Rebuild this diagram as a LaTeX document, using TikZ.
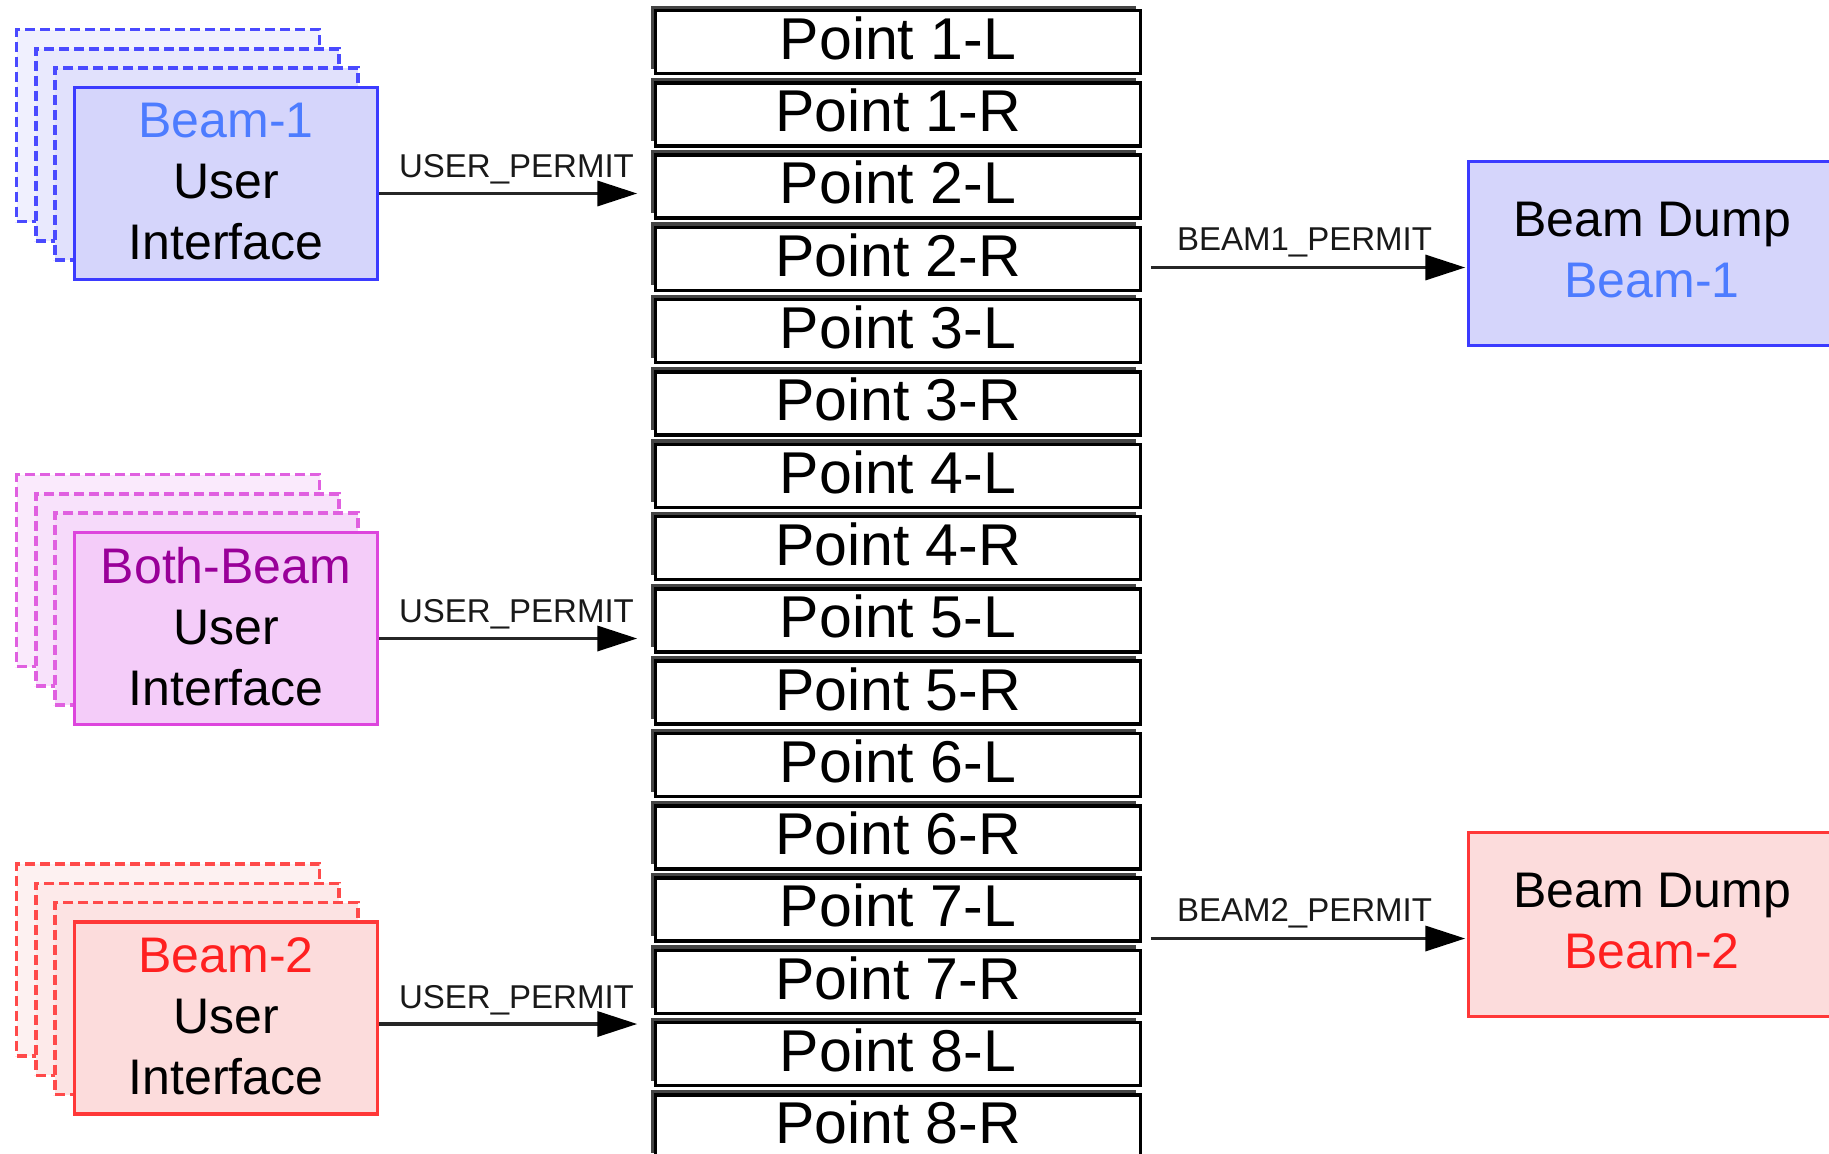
\documentclass[tikz,border=0pt]{standalone}
\usepackage{fontspec}
\setmainfont{Liberation Sans}
\usetikzlibrary{arrows.meta,shadows}
\definecolor{bBord}{HTML}{3B3BFF}
\definecolor{bFill}{HTML}{D5D5FB}
\definecolor{bText}{HTML}{4D7CFF}
\definecolor{bDash}{HTML}{4A4AFF}
\definecolor{bBackA}{HTML}{F0F0FE}
\definecolor{bBackB}{HTML}{E9E9FD}
\definecolor{bBackC}{HTML}{E1E1FC}
\definecolor{mBord}{HTML}{DD45DD}
\definecolor{mFill}{HTML}{F4CCF9}
\definecolor{mText}{HTML}{990099}
\definecolor{mDash}{HTML}{E060E0}
\definecolor{mBackA}{HTML}{FAEAFC}
\definecolor{mBackB}{HTML}{F8E2FB}
\definecolor{mBackC}{HTML}{F6DAFA}
\definecolor{rBord}{HTML}{FF3838}
\definecolor{rFill}{HTML}{FCDCDC}
\definecolor{rText}{HTML}{FF2020}
\definecolor{rDash}{HTML}{FF4A4A}
\definecolor{rBackA}{HTML}{FDF1F1}
\definecolor{rBackB}{HTML}{FDEAEA}
\definecolor{rBackC}{HTML}{FCE3E3}
\definecolor{ptShadow}{HTML}{444444}
\begin{document}
\begin{tikzpicture}[x=1pt,y=-1pt,
  ptbox/.style={draw=black, line width=3.5pt, fill=white, minimum width=485pt,
    minimum height=63pt, inner sep=0pt, text depth=8pt,
    font=\fontsize{59}{59}\selectfont,
    general shadow={fill=ptShadow, shadow xshift=-5pt, shadow yshift=5pt}},
  uiback/.style={draw=#1, line width=3.5pt, dash pattern=on 10pt off 5pt,
    minimum width=303pt, minimum height=192pt, inner sep=0pt},
  uibox/.style={draw=#1, line width=3.5pt, minimum width=303pt, minimum height=192pt,
    inner sep=0pt, align=center, text depth=4pt, font=\fontsize{50}{61}\selectfont},
  bdbox/.style={draw=#1, line width=3.5pt, minimum width=367pt, minimum height=184pt,
    inner sep=0pt, align=center, text depth=8pt, font=\fontsize{50}{61}\selectfont},
  conn/.style={draw=black!85, line width=3.5pt,
    -{Triangle[length=40pt,width=25pt,color=black]}},
  lbl/.style={font=\fontsize{33}{33}\selectfont, text=black!90, anchor=base,
    inner sep=0pt, midway}
]
\useasboundingbox[fill=white] (0,0) rectangle (1829,1154);

% Point stack
\foreach \i in {1,...,8}{
  \pgfmathsetmacro\yl{42+72.3*(2*\i-2)}
  \pgfmathsetmacro\yr{42+72.3*(2*\i-1)}
  \node[ptbox] (p\i-L) at (898,\yl) {Point \i-L};
  \node[ptbox] (p\i-R) at (898,\yr) {Point \i-R};
}

% Beam-1 user interface
\node[uiback=bDash, fill=bBackA] (u1a) at (168,125.5) {};
\node[uiback=bDash, fill=bBackB] (u1b) at (187.3,144.8) {};
\node[uiback=bDash, fill=bBackC] (u1c) at (206.7,164.2) {};
\node[uibox=bBord, fill=bFill] (u1) at (226,183.5) {\textcolor{bText}{Beam-1}\\User\\Interface};

% Both-Beam user interface
\node[uiback=mDash, fill=mBackA] (u2a) at (168,570.5) {};
\node[uiback=mDash, fill=mBackB] (u2b) at (187.3,589.8) {};
\node[uiback=mDash, fill=mBackC] (u2c) at (206.7,609.2) {};
\node[uibox=mBord, fill=mFill] (u2) at (226,628.5) {\textcolor{mText}{Both-Beam}\\User\\Interface};

% Beam-2 user interface
\node[uiback=rDash, fill=rBackA] (u3a) at (168,960) {};
\node[uiback=rDash, fill=rBackB] (u3b) at (187.3,979.3) {};
\node[uiback=rDash, fill=rBackC] (u3c) at (206.7,998.7) {};
\node[uibox=rBord, fill=rFill] (u3) at (226,1018) {\textcolor{rText}{Beam-2}\\User\\Interface};

% Beam dumps
\node[bdbox=bBord, fill=bFill] (bd1) at (1652,253.5) {Beam Dump\\\textcolor{bText}{Beam-1}};
\node[bdbox=rBord, fill=rFill] (bd2) at (1652,924.5) {Beam Dump\\\textcolor{rText}{Beam-2}};

% User permit connectors
\coordinate (s1) at ([yshift=-10pt]u1.east);
\coordinate (s2) at ([yshift=-10pt]u2.east);
\coordinate (s3) at ([yshift=-6pt]u3.east);
\draw[conn, shorten >=16.5pt] (s1) -- (s1 -| p2-L.west) node[lbl, yshift=16pt] {USER\_PERMIT};
\draw[conn, shorten >=16.5pt] (s2) -- (s2 -| p5-L.west) node[lbl, yshift=16pt] {USER\_PERMIT};
\draw[conn, shorten >=16.5pt] (s3) -- (s3 -| p7-R.west) node[lbl, yshift=16pt] {USER\_PERMIT};

% Beam permit connectors
\coordinate (t1) at ([yshift=-14pt]bd1.west);
\coordinate (t2) at ([yshift=-14pt]bd2.west);
\draw[conn, shorten <=8.5pt, shorten >=1.5pt] (t1 -| p2-R.east) -- (t1) node[lbl, yshift=17pt] {BEAM1\_PERMIT};
\draw[conn, shorten <=8.5pt, shorten >=1.5pt] (t2 -| p7-L.east) -- (t2) node[lbl, yshift=17pt] {BEAM2\_PERMIT};
\end{tikzpicture}
\end{document}
